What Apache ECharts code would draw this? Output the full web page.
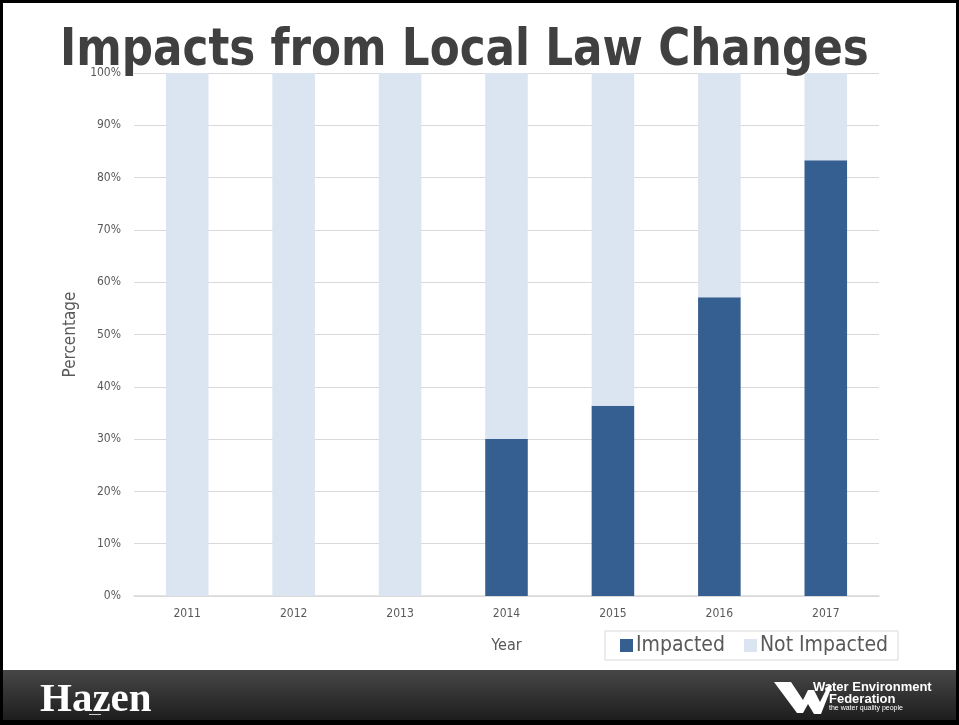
<!DOCTYPE html>
<html><head><meta charset="utf-8">
<script src="https://cdn.jsdelivr.net/npm/echarts@6/dist/echarts.min.js"></script>
<style>html,body{margin:0;padding:0;background:#fff}#c{width:959px;height:725px}</style>
</head><body><div id="c"></div>
<script>
var years = ['2011','2012','2013','2014','2015','2016','2017'];
var impacted = [0, 0, 0, 30, 36.4, 57.1, 83.3];
var notImpacted = [100, 100, 100, 70, 63.6, 42.9, 16.7];
var yTicks = [0,10,20,30,40,50,60,70,80,90,100];

var FONT = '"DejaVu Sans Condensed", "DejaVu Sans", sans-serif';
var chart = echarts.init(document.getElementById('c'), null, {renderer:'canvas'});
chart.setOption({
  backgroundColor:'#ffffff',
  animation:false,
  grid:{left:134, right:80, top:73, bottom:129},
  legend:{
    left:605, top:631, padding:[4,10,4,15],
    borderColor:'#d9d9d9', borderWidth:1,
    itemWidth:13, itemHeight:13, itemGap:19,
    icon:'rect',
    textStyle:{fontFamily:FONT, fontSize:21, color:'#595959', padding:[0,0,0,-2]},
    data:['Impacted','Not Impacted']
  },
  xAxis:{
    type:'category', data:years,
    name:'Year', nameLocation:'middle', nameGap:42,
    nameTextStyle:{fontFamily:FONT, fontSize:16, color:'#595959'},
    axisLine:{lineStyle:{color:'#d9d9d9', width:1.5}},
    axisTick:{show:false},
    axisLabel:{fontFamily:FONT, fontSize:12, color:'#595959', margin:12}
  },
  yAxis:{
    type:'value', min:0, max:100, interval:10,
    name:'Percentage', nameLocation:'middle', nameGap:50, nameRotate:90,
    nameTextStyle:{fontFamily:FONT, fontSize:17, color:'#595959'},
    axisLine:{show:false}, axisTick:{show:false},
    axisLabel:{fontFamily:FONT, fontSize:12, color:'#595959', margin:13,
      formatter:function(v){return yTicks.indexOf(v)>=0 ? v+'%' : '';}},
    splitLine:{lineStyle:{color:'#d9d9d9', width:1}}
  },
  series:[
    {name:'Impacted', type:'bar', stack:'a', data:impacted, barWidth:'40%',
     itemStyle:{color:'#365f91'}},
    {name:'Not Impacted', type:'bar', stack:'a', data:notImpacted, barWidth:'40%',
     itemStyle:{color:'#dbe5f1'}}
  ],
  graphic:[
    {type:'rect', z:100, shape:{x:0,y:670,width:959,height:52},
     style:{fill:{type:'linear',x:0,y:0,x2:0,y2:1,colorStops:[{offset:0,color:'#474747'},{offset:1,color:'#1c1c1c'}]}}},
    {type:'rect', z:101, shape:{x:0,y:720,width:959,height:5}, style:{fill:'#000'}},
    {type:'rect', z:101, shape:{x:0,y:0,width:959,height:3}, style:{fill:'#000'}},
    {type:'rect', z:101, shape:{x:0,y:0,width:3,height:725}, style:{fill:'#000'}},
    {type:'rect', z:101, shape:{x:956,y:0,width:3,height:725}, style:{fill:'#000'}},
    {type:'text', z:102, x:60, y:25, scaleX:0.934, originX:0, originY:0,
     style:{text:'Impacts from Local Law Changes', font:'bold 52px "DejaVu Sans Condensed"', fill:'#404040'}},
    {type:'text', z:102, x:40, y:680,
     style:{text:'Hazen', font:'bold 41px "Liberation Serif"', fill:'#ffffff'}},
    {type:'rect', z:102, shape:{x:89,y:714,width:12,height:1}, style:{fill:'#cccccc'}},
    {type:'polygon', z:102, shape:{points:[[774,682],[791,682],[803,700],[808,690],[814,690],[820,702],[829,684],[832,686],[821,714],[814,714],[808,704],[803,713],[797,713]]},
     style:{fill:'#ffffff'}},
    {type:'text', z:102, x:813, y:681,
     style:{text:'Water Environment', font:'bold 13px "Liberation Sans"', fill:'#ffffff'}},
    {type:'text', z:102, x:829, y:693,
     style:{text:'Federation', font:'bold 13px "Liberation Sans"', fill:'#ffffff'}},
    {type:'text', z:102, x:829, y:705,
     style:{text:'the water quality people', font:'7px "Liberation Sans"', fill:'#ffffff'}}
  ]
});
</script></body></html>
